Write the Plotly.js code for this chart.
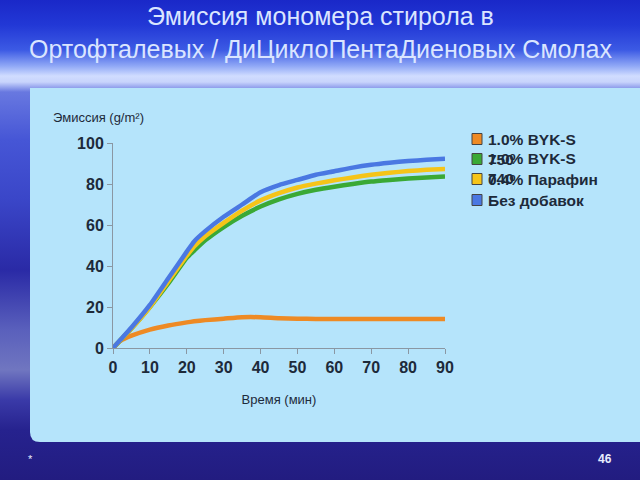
<!DOCTYPE html>
<html>
<head>
<meta charset="utf-8">
<script src="https://cdn.plot.ly/plotly-3.0.1.min.js"></script>
<style>
  html, body { margin: 0; padding: 0; }
  #chart {
    width: 640px; height: 480px;
    background:
      linear-gradient(to bottom,
        #1a28c8 0px, #2238d6 25px, #3c5ae4 50px, #90a8f6 66px, #d0dcff 76px, #c8d4fc 82px,
        #6878e0 92px, #4656d6 140px, #3a46c8 200px, #2a2aa6 270px,
        #5a60bc 330px, #7076c0 370px, #3a3aa8 400px, #26228e 430px, #221c80 480px);
  }
</style>
</head>
<body>
<div id="chart"></div>
<script>
// ---- data ----
const timeMin = [0, 2, 5, 10, 15, 20, 22, 25, 30, 35, 40, 45, 50, 55, 60, 65, 70, 75, 80, 85, 90];
const byk750   = [0, 3.5, 6, 9, 11, 12.5, 13, 13.6, 14.3, 15, 15, 14.5, 14.3, 14.2, 14.2, 14.2, 14.2, 14.2, 14.2, 14.2, 14.2];
const byk740   = [0, 3.8, 9.5, 20, 31.5, 44, 47.5, 52.5, 59, 64.5, 69, 72.5, 75.2, 77.2, 78.7, 80, 81.2, 82, 82.7, 83.2, 83.6];
const paraffin = [0, 3.8, 9.5, 20, 32.5, 45, 49.5, 54.5, 61, 67, 72, 75.5, 78.3, 80.2, 81.8, 83.2, 84.5, 85.5, 86.3, 86.9, 87.3];
const noAdd    = [0, 4, 10, 21, 34, 47, 52, 57, 64, 70, 76, 79.5, 82, 84.5, 86.2, 88, 89.4, 90.4, 91.2, 91.8, 92.3];

const seriesNames = ["1.0% BYK-S 750", "1.0% BYK-S 740", "0.4% Парафин", "Без добавок"];
const seriesValues = [byk750, byk740, paraffin, noAdd];
const seriesColors = ["#ee8a24", "#3aa935", "#f5c419", "#4a78e2"];

const xTicks = [0, 10, 20, 30, 40, 50, 60, 70, 80, 90];
const yTicks = [0, 20, 40, 60, 80, 100];

const titleText = "Эмиссия мономера стирола в<br>Ортофталевых / ДиЦиклоПентаДиеновых Смолах";
const yTitle = "Эмиссия (g/m²)";
const xTitle = "Время (мин)";

// ---- helpers (pixel -> paper, margins are zero) ----
const W = 640, H = 480;
const px = v => v / W;
const py = v => 1 - v / H;

const traces = seriesNames.map((n, i) => ({
  type: "scatter", mode: "lines", name: n,
  x: timeMin, y: seriesValues[i],
  line: { color: seriesColors[i], width: 4.5, shape: "spline", smoothing: 0.5 },
  showlegend: false
}));

const panelPath = `M ${px(30)},${py(88)} L ${px(640)},${py(88)} L ${px(640)},${py(442)} L ${px(40)},${py(442)} Q ${px(30)},${py(442)} ${px(30)},${py(432)} Z`;

const shapes = [
  { type: "path", xref: "paper", yref: "paper", path: panelPath,
    fillcolor: "#b5e4fb", line: { width: 0 }, layer: "below" }
];
const annotations = [
  { xref: "paper", yref: "paper", x: 0.5, y: py(0), xanchor: "center", yanchor: "top",
    text: titleText, showarrow: false, align: "center",
    font: { family: "Liberation Sans, Arial", size: 25, color: "#dae5ff" } },
  { xref: "paper", yref: "paper", x: px(51), y: py(117), xanchor: "left", yanchor: "middle",
    text: yTitle, showarrow: false, font: { family: "Liberation Sans, Arial", size: 13, color: "#1d2a3a" } },
  { xref: "paper", yref: "paper", x: px(30), y: py(459), xanchor: "center", yanchor: "middle",
    text: "*", showarrow: false, font: { family: "Liberation Sans, Arial", size: 11, color: "#e8ecff" } },
  { xref: "paper", yref: "paper", x: px(605), y: py(459), xanchor: "center", yanchor: "middle",
    text: "46", showarrow: false, font: { family: "Liberation Sans, Arial", size: 12, color: "#e8ecff", weight: "bold" } }
];

// legend drawn as squares + labels (labels wrap onto the next row as in the source)
const legendRows = [139, 159, 179, 200];
seriesNames.forEach((n, i) => {
  const yc = legendRows[i];
  shapes.push({ type: "rect", xref: "paper", yref: "paper",
    x0: px(472), x1: px(482), y0: py(yc - 5.5), y1: py(yc + 5.5),
    fillcolor: seriesColors[i], line: { color: "#444", width: 1 } });
  const words = n.split(" ");
  let label = n;
  if (n.startsWith("1.0% BYK-S")) label = "1.0% BYK-S<br>" + words[words.length - 1];
  annotations.push({ xref: "paper", yref: "paper", x: px(486), y: py(yc - 10.5),
    xanchor: "left", yanchor: "top", align: "left", showarrow: false, text: label,
    font: { family: "Liberation Sans, Arial", size: 15.5, color: "#1d2a3a", weight: "bold" } });
});

const axisCommon = {
  showgrid: false, zeroline: false, showline: true, linecolor: "#8a97a3", linewidth: 1,
  ticks: "outside", ticklen: 5, tickcolor: "#8a97a3",
  tickfont: { family: "Liberation Sans, Arial", size: 16, color: "#1d2a3a", weight: "bold" }
};

const layout = {
  width: W, height: H,
  margin: { l: 0, r: 0, t: 0, b: 0 },
  paper_bgcolor: "rgba(0,0,0,0)",
  plot_bgcolor: "#ffffff",
  xaxis: Object.assign({}, axisCommon, {
    domain: [px(113), px(445)], range: [0, 90], tickvals: xTicks, ticktext: xTicks.map(String),
    title: { text: xTitle, standoff: 19, font: { family: "Liberation Sans, Arial", size: 13, color: "#1d2a3a" } }
  }),
  yaxis: Object.assign({}, axisCommon, {
    domain: [py(348), py(143)], range: [0, 100], tickvals: yTicks, ticktext: yTicks.map(String)
  }),
  shapes: shapes,
  annotations: annotations,
  showlegend: false
};

Plotly.newPlot("chart", traces, layout, { displayModeBar: false, staticPlot: true });
</script>
</body>
</html>
